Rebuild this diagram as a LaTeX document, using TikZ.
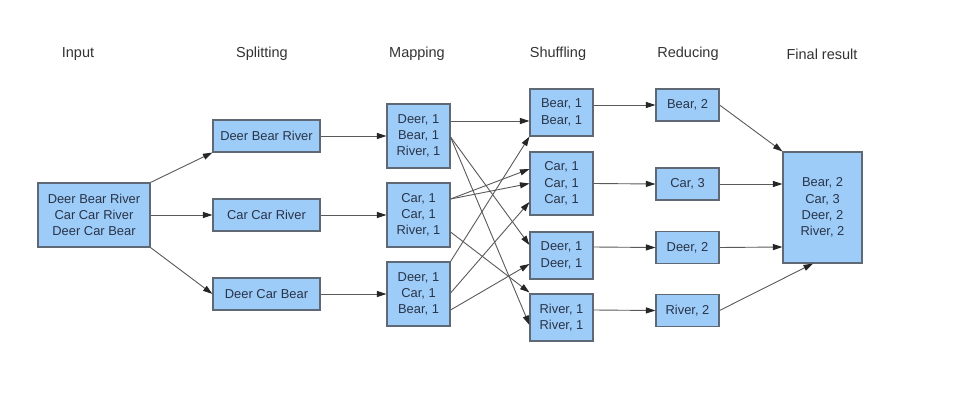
\documentclass[tikz,border=0pt]{standalone}
\usepackage{fontspec}
\setmainfont{Liberation Sans}
\usetikzlibrary{arrows.meta}
\definecolor{boxfill}{RGB}{158,204,248}
\definecolor{boxdraw}{RGB}{95,105,118}
\definecolor{txt}{RGB}{40,52,72}
\definecolor{arr}{RGB}{90,90,90}
\tikzset{
  box/.style={draw=boxdraw, line width=1.1pt, fill=boxfill, text=txt, align=center,
    inner sep=0pt, font=\fontsize{12.9}{16.3}\selectfont},
  title/.style={text=black!80, font=\fontsize{14.5}{17}\selectfont},
  conn/.style={draw=arr, line width=0.9pt, -{Triangle[length=9.5pt,width=6pt,color=black!85]}}
}
\begin{document}
\begin{tikzpicture}[x=1pt,y=-1pt]
\useasboundingbox[fill=white] (0,0) rectangle (970,407);
% titles
\node[title] (t1) at (78,54) {Input};
\node[title] (t2) at (262,54) {Splitting};
\node[title] (t3) at (417,54) {Mapping};
\node[title] (t4) at (558,54) {Shuffling};
\node[title] (t5) at (688,54) {Reducing};
\node[title] (t6) at (822,54) {Final result};
% input
\node[box, minimum width=112pt, minimum height=64pt] (in) at (94,215) {Deer Bear River\\Car Car River\\Deer Car Bear};
% splitting
\node[box, minimum width=107pt, minimum height=32pt] (s1) at (266.5,136) {Deer Bear River};
\node[box, minimum width=107pt, minimum height=32pt] (s2) at (266.5,215) {Car Car River};
\node[box, minimum width=107pt, minimum height=32pt] (s3) at (266.5,294) {Deer Car Bear};
% mapping
\node[box, minimum width=63pt, minimum height=64pt] (m1) at (418.5,136) {Deer, 1\\Bear, 1\\River, 1};
\node[box, minimum width=63pt, minimum height=64pt] (m2) at (418.5,215) {Car, 1\\Car, 1\\River, 1};
\node[box, minimum width=63pt, minimum height=64pt] (m3) at (418.5,294) {Deer, 1\\Car, 1\\Bear, 1};
% shuffling
\node[box, minimum width=63pt, minimum height=47pt] (h1) at (561.5,112.5) {Bear, 1\\Bear, 1};
\node[box, minimum width=63pt, minimum height=63pt] (h2) at (561.5,183.5) {Car, 1\\Car, 1\\Car, 1};
\node[box, minimum width=63pt, minimum height=47pt] (h3) at (561.5,255.5) {Deer, 1\\Deer, 1};
\node[box, minimum width=63pt, minimum height=47pt] (h4) at (561.5,317.5) {River, 1\\River, 1};
% reducing
\node[box, minimum width=63pt, minimum height=32pt] (r1) at (687.5,105) {Bear, 2};
\node[box, minimum width=63pt, minimum height=32pt] (r2) at (687.5,184) {Car, 3};
\node[box, minimum width=63pt, minimum height=32pt] (r3) at (687.5,247.5) {Deer, 2};
\node[box, minimum width=63pt, minimum height=32pt] (r4) at (687.5,310.5) {River, 2};
% final
\node[box, minimum width=79pt, minimum height=111pt] (f) at (822.5,207.5) {Bear, 2\\Car, 3\\Deer, 2\\River, 2};
% input -> splitting
\draw[conn] (in.north east) -- (s1.south west);
\draw[conn] (in.east) -- (s2.west);
\draw[conn] (in.south east) -- (s3.west);
% splitting -> mapping
\draw[conn] (s1.east) -- (m1.west);
\draw[conn] (s2.east) -- (m2.west);
\draw[conn] (s3.east) -- (m3.west);
% mapping -> shuffling
\draw[conn] ([yshift=15pt]m1.east) -- ([yshift=-8.5pt]h1.west);
\draw[conn] ([yshift=-1pt]m1.east) -- ([yshift=10.5pt]h3.west);
\draw[conn] ([yshift=-1pt]m1.east) -- ([yshift=-7.5pt]h4.west);
\draw[conn] ([yshift=16pt]m2.east) -- ([yshift=14.5pt]h2.west);
\draw[conn] ([yshift=16pt]m2.east) -- (h2.west);
\draw[conn] ([yshift=-17pt]m2.east) -- ([yshift=1pt]h4.north west);
\draw[conn] (m3.north east) -- (h1.south west);
\draw[conn] ([yshift=1pt]m3.east) -- ([yshift=-18.5pt]h2.west);
\draw[conn] ([yshift=-16pt]m3.east) -- ([yshift=-8.5pt]h3.west);
% shuffling -> reducing
\draw[conn] ([yshift=7.5pt]h1.east) -- (r1.west);
\draw[conn] (h2.east) -- (r2.west);
\draw[conn] ([yshift=8.5pt]h3.east) -- (r3.west);
\draw[conn] ([yshift=7.5pt]h4.east) -- (r4.west);
% reducing -> final
\draw[conn] (r1.east) -- (f.north west);
\draw[conn] (r2.east) -- ([yshift=23.5pt]f.west);
\draw[conn] (r3.east) -- ([yshift=-39.5pt]f.west);
\draw[conn] (r4.east) -- ([xshift=-9.5pt]f.south);
\end{tikzpicture}
\end{document}
